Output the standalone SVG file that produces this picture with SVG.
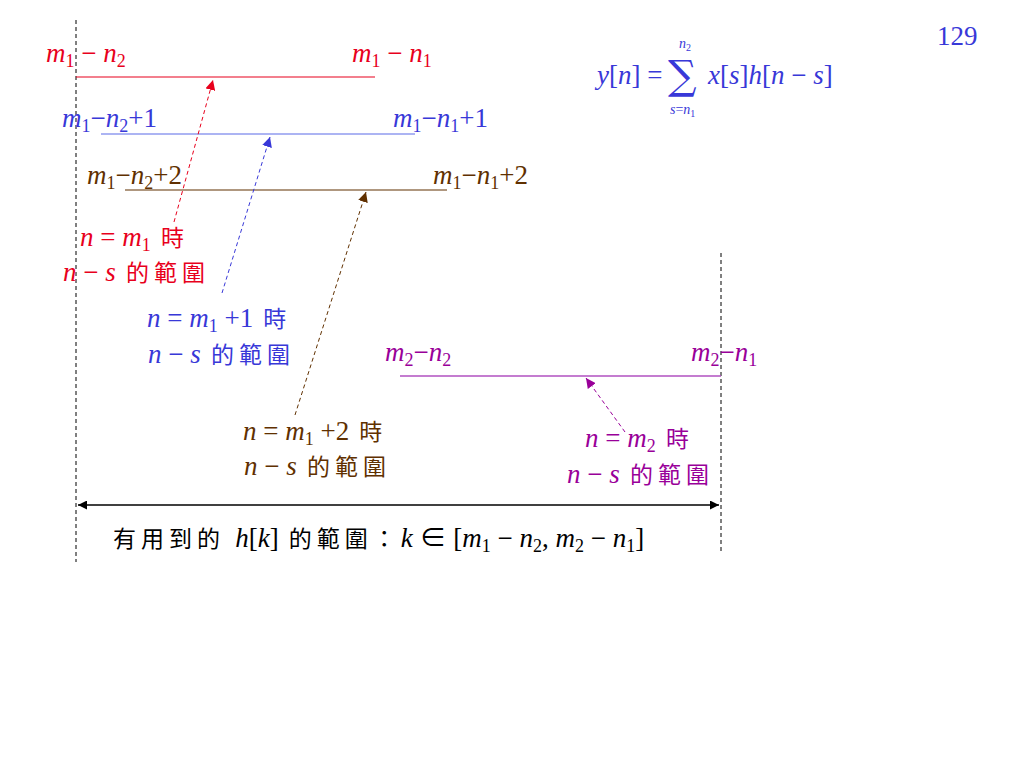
<svg xmlns="http://www.w3.org/2000/svg" width="1024" height="768" viewBox="0 0 1024 768">
<defs>
<style>
.m{font-family:"Liberation Serif","Noto Sans CJK TC",serif;font-size:27px}
.i{font-style:italic}
.s{font-size:18px}
.cjk{font-family:"Noto Sans CJK TC","Liberation Serif",serif;font-size:23px;letter-spacing:5px}
.red{fill:#e8001c}.blue{fill:#3838d8}.brown{fill:#603000}.purple{fill:#990099}.black{fill:#000}
.guide{stroke:#000;stroke-width:1;stroke-dasharray:4 3;fill:none}
.arr{stroke-width:1;stroke-dasharray:4 3;fill:none}
</style>
<marker id="aR" viewBox="0 0 10 10" refX="10" refY="5" markerWidth="10" markerHeight="10" markerUnits="userSpaceOnUse" orient="auto"><path d="M0,0 L10,5 L0,10 z" fill="#e8001c"/></marker>
<marker id="aB" viewBox="0 0 10 10" refX="10" refY="5" markerWidth="10" markerHeight="10" markerUnits="userSpaceOnUse" orient="auto"><path d="M0,0 L10,5 L0,10 z" fill="#3838d8"/></marker>
<marker id="aN" viewBox="0 0 10 10" refX="10" refY="5" markerWidth="10" markerHeight="10" markerUnits="userSpaceOnUse" orient="auto"><path d="M0,0 L10,5 L0,10 z" fill="#603000"/></marker>
<marker id="aP" viewBox="0 0 10 10" refX="10" refY="5" markerWidth="10" markerHeight="10" markerUnits="userSpaceOnUse" orient="auto"><path d="M0,0 L10,5 L0,10 z" fill="#990099"/></marker>
<marker id="aK" viewBox="0 0 10 10" refX="10" refY="5" markerWidth="10" markerHeight="9" markerUnits="userSpaceOnUse" orient="auto-start-reverse"><path d="M0,0 L10,5 L0,10 z" fill="#000"/></marker>
</defs>
<rect width="1024" height="768" fill="#fff"/>

<g id="guides">
<line class="guide" x1="76" y1="20" x2="76" y2="562"/>
<line class="guide" x1="721" y1="253" x2="721" y2="552"/>
</g>

<g id="ranges">
<line x1="76" y1="77" x2="375" y2="77" stroke="#e8001c" stroke-width="1.2"/>
<line x1="101" y1="134" x2="415" y2="134" stroke="#5a6ae8" stroke-width="1.2"/>
<line x1="125" y1="190" x2="447" y2="190" stroke="#603000" stroke-width="1.2"/>
<line x1="400" y1="376" x2="721" y2="376" stroke="#b050c0" stroke-width="1.5"/>
</g>

<g id="connectors">
<line class="arr" x1="174" y1="222" x2="213" y2="80" stroke="#e8001c" marker-end="url(#aR)"/>
<line class="arr" x1="222" y1="293" x2="270" y2="137" stroke="#3838d8" marker-end="url(#aB)"/>
<line class="arr" x1="295" y1="415" x2="366" y2="192" stroke="#603000" marker-end="url(#aN)"/>
<line class="arr" x1="625" y1="432" x2="586" y2="378" stroke="#990099" marker-end="url(#aP)"/>
<line x1="78" y1="505" x2="719" y2="505" stroke="#000" stroke-width="1.5" marker-start="url(#aK)" marker-end="url(#aK)"/>
</g>

<g id="page-number"><text x="937" y="45" class="m blue" font-size="26">129</text></g>

<g id="formula" class="m blue">
<text x="597" y="84"><tspan class="i">y</tspan>[<tspan class="i">n</tspan>] = </text>
<text x="668" y="89" font-size="40" font-family="DejaVu Serif, serif">∑</text>
<text x="679" y="48" class="i" font-size="14">n<tspan font-size="10" dy="3" font-style="normal">2</tspan></text>
<text x="670" y="114" font-size="14"><tspan class="i">s</tspan>=<tspan class="i">n</tspan><tspan font-size="10" dy="3">1</tspan></text>
<text x="708" y="84"><tspan class="i">x</tspan>[<tspan class="i">s</tspan>]<tspan class="i">h</tspan>[<tspan class="i">n</tspan> − <tspan class="i">s</tspan>]</text>
</g>

<g id="label-red-top">
<text x="46" y="62" class="m red"><tspan class="i">m</tspan><tspan class="s" dy="5">1</tspan><tspan dy="-5"> − </tspan><tspan class="i">n</tspan><tspan class="s" dy="5">2</tspan></text>
<text x="352" y="62" class="m red"><tspan class="i">m</tspan><tspan class="s" dy="5">1</tspan><tspan dy="-5"> − </tspan><tspan class="i">n</tspan><tspan class="s" dy="5">1</tspan></text>
</g>

<g id="label-blue-top">
<text x="62" y="127" class="m blue"><tspan class="i">m</tspan><tspan class="s" dy="5">1</tspan><tspan dy="-5">−</tspan><tspan class="i">n</tspan><tspan class="s" dy="5">2</tspan><tspan dy="-5">+1</tspan></text>
<text x="393" y="127" class="m blue"><tspan class="i">m</tspan><tspan class="s" dy="5">1</tspan><tspan dy="-5">−</tspan><tspan class="i">n</tspan><tspan class="s" dy="5">1</tspan><tspan dy="-5">+1</tspan></text>
</g>

<g id="label-brown-top">
<text x="87" y="184" class="m brown"><tspan class="i">m</tspan><tspan class="s" dy="5">1</tspan><tspan dy="-5">−</tspan><tspan class="i">n</tspan><tspan class="s" dy="5">2</tspan><tspan dy="-5">+2</tspan></text>
<text x="433" y="184" class="m brown"><tspan class="i">m</tspan><tspan class="s" dy="5">1</tspan><tspan dy="-5">−</tspan><tspan class="i">n</tspan><tspan class="s" dy="5">1</tspan><tspan dy="-5">+2</tspan></text>
</g>

<g id="label-purple-top">
<text x="385" y="361" class="m purple"><tspan class="i">m</tspan><tspan class="s" dy="5">2</tspan><tspan dy="-5">−</tspan><tspan class="i">n</tspan><tspan class="s" dy="5">2</tspan></text>
<text x="691" y="361" class="m purple"><tspan class="i">m</tspan><tspan class="s" dy="5">2</tspan><tspan dy="-5">−</tspan><tspan class="i">n</tspan><tspan class="s" dy="5">1</tspan></text>
</g>

<g id="note-red">
<text x="80" y="246" class="m red"><tspan class="i">n</tspan> = <tspan class="i">m</tspan><tspan class="s" dy="5">1</tspan><tspan class="cjk" dy="-5"> 時</tspan></text>
<text x="63" y="281" class="m red"><tspan class="i">n</tspan> − <tspan class="i">s</tspan><tspan class="cjk"> 的範圍</tspan></text>
</g>

<g id="note-blue">
<text x="147" y="327" class="m blue"><tspan class="i">n</tspan> = <tspan class="i">m</tspan><tspan class="s" dy="5">1</tspan><tspan dy="-5"> +1</tspan><tspan class="cjk"> 時</tspan></text>
<text x="148" y="363" class="m blue"><tspan class="i">n</tspan> − <tspan class="i">s</tspan><tspan class="cjk"> 的範圍</tspan></text>
</g>

<g id="note-brown">
<text x="243" y="440" class="m brown"><tspan class="i">n</tspan> = <tspan class="i">m</tspan><tspan class="s" dy="5">1</tspan><tspan dy="-5"> +2</tspan><tspan class="cjk"> 時</tspan></text>
<text x="244" y="475" class="m brown"><tspan class="i">n</tspan> − <tspan class="i">s</tspan><tspan class="cjk"> 的範圍</tspan></text>
</g>

<g id="note-purple">
<text x="585" y="447" class="m purple"><tspan class="i">n</tspan> = <tspan class="i">m</tspan><tspan class="s" dy="5">2</tspan><tspan class="cjk" dy="-5"> 時</tspan></text>
<text x="567" y="483" class="m purple"><tspan class="i">n</tspan> − <tspan class="i">s</tspan><tspan class="cjk"> 的範圍</tspan></text>
</g>

<g id="caption">
<text x="113" y="547" class="m black"><tspan class="cjk">有用到的 </tspan><tspan class="i">h</tspan>[<tspan class="i">k</tspan>]<tspan class="cjk"> 的範圍：</tspan><tspan class="i">k</tspan> ∈ [<tspan class="i">m</tspan><tspan class="s" dy="5">1</tspan><tspan dy="-5"> − </tspan><tspan class="i">n</tspan><tspan class="s" dy="5">2</tspan><tspan dy="-5">, </tspan><tspan class="i">m</tspan><tspan class="s" dy="5">2</tspan><tspan dy="-5"> − </tspan><tspan class="i">n</tspan><tspan class="s" dy="5">1</tspan><tspan dy="-5">]</tspan></text>
</g>
</svg>
